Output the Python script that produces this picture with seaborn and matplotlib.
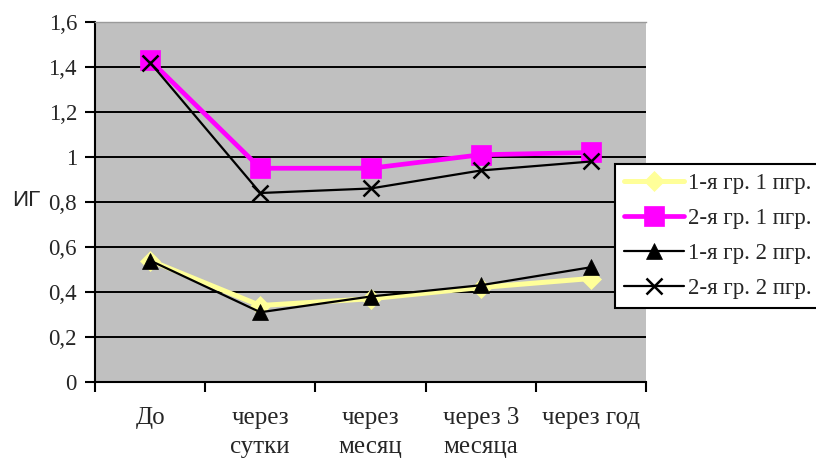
import matplotlib
matplotlib.use("Agg")
import matplotlib.pyplot as plt
import matplotlib.ticker as mticker
import seaborn as sns
import pandas as pd

# Timepoints of observation
periods = ["До", "через\nсутки", "через\nмесяц", "через 3\nмесяца", "через год"]

# Index values (ИГ) per group / subgroup
g1_p1 = [0.54, 0.34, 0.37, 0.42, 0.46]
g2_p1 = [1.43, 0.95, 0.95, 1.01, 1.02]
g1_p2 = [0.54, 0.31, 0.38, 0.43, 0.51]
g2_p2 = [1.42, 0.84, 0.86, 0.94, 0.98]

series_names = ["1-я гр. 1 пгр.", "2-я гр. 1 пгр.", "1-я гр. 2 пгр.", "2-я гр. 2 пгр."]
series_values = [g1_p1, g2_p1, g1_p2, g2_p2]

yticks = [0, 0.2, 0.4, 0.6, 0.8, 1.0, 1.2, 1.4, 1.6]

sns.set_theme(style="white")
plt.rcParams["font.family"] = ["Liberation Serif", "DejaVu Serif"]

styles = [
    dict(color="#FFFF99", lw=3.6, marker="D", ms=10, mec="#FFFF99", mew=0.5),
    dict(color="#FF00FF", lw=3.4, marker="s", ms=14, mec="#FF00FF", mew=0.5),
    dict(color="black", lw=1.6, marker="^", ms=12, mec="black", mew=0.5),
    dict(color="black", lw=1.6, marker="x", ms=11, mec="black", mew=1.8),
]

fig = plt.figure(figsize=(8.16, 4.65), dpi=100)
ax = fig.add_axes([95 / 816, 1 - 382 / 465, (646 - 95) / 816, (382 - 22) / 465])
ax.set_facecolor("#C0C0C0")

rows = []
for name, vals in zip(series_names, series_values):
    for i, (p, v) in enumerate(zip(periods, vals)):
        rows.append({"series": name, "pos": i, "period": p, "value": v})
df = pd.DataFrame(rows)

for name, st in zip(series_names, styles):
    sub = df[df["series"] == name]
    sns.lineplot(data=sub, x="pos", y="value", ax=ax, label=name,
                 color=st["color"], linewidth=st["lw"], marker=st["marker"],
                 markersize=st["ms"], markeredgecolor=st["mec"],
                 markeredgewidth=st["mew"], markerfacecolor=st["color"],
                 legend=False, zorder=3)

# Horizontal grid lines
for y in yticks[1:-1]:
    ax.axhline(y, color="black", lw=1.4, zorder=1)

ax.set_xlim(-0.5, 4.5)
ax.set_ylim(0, 1.6)

ax.set_xticks(range(len(periods)))
ax.set_xticklabels(periods, fontsize=18, linespacing=1.4)
ax.xaxis.set_minor_locator(mticker.FixedLocator([i - 0.5 for i in range(len(periods) + 1)]))
ax.tick_params(axis="x", which="major", length=0, pad=18)
ax.tick_params(axis="x", which="minor", length=7, width=1.5, color="black", direction="out")
ax.xaxis.set_tick_params(which="minor", bottom=True)

ax.set_yticks(yticks)
ax.yaxis.set_major_formatter(mticker.FuncFormatter(
    lambda v, _: ("%g" % round(v, 1)).replace(".", ",")))
ax.tick_params(axis="y", which="major", length=7, width=1.5, color="black",
               direction="out", labelsize=16.5, pad=6, left=True)

ax.set_xlabel("")
ax.set_ylabel("ИГ", rotation=0, fontsize=16, family=["Liberation Sans", "DejaVu Sans"],
              va="center", ha="center")
ax.yaxis.set_label_coords(-0.125, 0.505)

for side in ["left", "bottom"]:
    ax.spines[side].set_color("black")
    ax.spines[side].set_linewidth(1.5)
ax.spines["top"].set_color("#9a9a9a")
ax.spines["top"].set_linewidth(1.0)
ax.spines["right"].set_visible(False)

handles, labels = ax.get_legend_handles_labels()
leg = fig.legend(handles, labels, loc="upper left",
                 bbox_to_anchor=(615 / 816, 1 - 164 / 465),
                 borderaxespad=0, frameon=True, fancybox=False, framealpha=1,
                 edgecolor="black", fontsize=16.5, handlelength=2.6,
                 labelspacing=0.6, borderpad=0.4, handletextpad=0.2)
leg.get_frame().set_linewidth(1.5)
leg.set_zorder(10)

fig.savefig("out.png", dpi=100, facecolor="white")
